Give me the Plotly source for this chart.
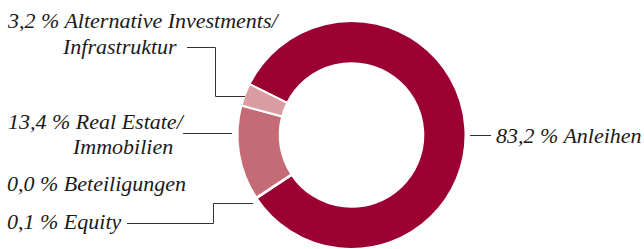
import plotly.graph_objects as go

# ---- data ----
categories = ["Anleihen", "Equity", "Beteiligungen", "Real Estate/ Immobilien", "Alternative Investments/ Infrastruktur"]
values = [83.2, 0.1, 0.0, 13.4, 3.2]
colors = ["#9C0033", "#EFCDD0", "#EFCDD0", "#C56B76", "#D99CA1"]

W, H = 644, 249

def fmt(v):
    return f"{v:.1f}".replace(".", ",") + " %"

def px(x):
    return x / W

def py(y):
    return 1 - y / H

fig = go.Figure()
fig.add_trace(go.Pie(
    labels=categories,
    values=values,
    sort=False,
    direction="clockwise",
    rotation=296.5,
    hole=0.63,
    textinfo="none",
    hoverinfo="label+percent",
    marker=dict(colors=colors, line=dict(color="white", width=2)),
    domain=dict(x=[px(236.5), px(466.5)], y=[0, 228 / H]),
    showlegend=False,
))

font = dict(family="'Liberation Serif', 'Times New Roman', serif", size=22, color="#1a1a1a", style="italic")

def label(text, x, baseline, anchor):
    fig.add_annotation(
        text=text, x=px(x), y=py(baseline - 6.5), xref="paper", yref="paper",
        xanchor=anchor, yanchor="middle", showarrow=False, font=font,
        borderpad=0,
    )

v_anl, v_eq, v_bet, v_re, v_alt = values
label(f"{fmt(v_alt)} Alternative Investments/", 6, 27, "left")
label("Infrastruktur", 178, 53, "right")
label(f"{fmt(v_re)} Real Estate/", 7, 128, "left")
label("Immobilien", 174, 153, "right")
label(f"{fmt(v_bet)} Beteiligungen", 6, 190, "left")
label(f"{fmt(v_eq)} Equity", 6, 228, "left")
label(f"{fmt(v_anl)} Anleihen", 495, 142, "left")

def leader(points):
    d = "M " + " L ".join(f"{px(x)},{py(y)}" for x, y in points)
    fig.add_shape(type="path", path=d, xref="paper", yref="paper",
                  line=dict(color="#333333", width=1))

leader([(187, 47.5), (215.5, 47.5), (215.5, 96.5), (245, 96.5)])
leader([(183, 133.5), (232, 133.5)])
leader([(127, 223.5), (213.5, 223.5), (213.5, 203.5), (253, 203.5)])
leader([(470, 135.5), (491, 135.5)])

fig.update_layout(
    width=W, height=H,
    margin=dict(l=0, r=0, t=0, b=0),
    paper_bgcolor="white", plot_bgcolor="white",
)

fig.write_html(
    "out.html",
    config={"displayModeBar": False},
    post_script="document.body.style.margin='0';document.body.style.overflow='hidden';",
)
